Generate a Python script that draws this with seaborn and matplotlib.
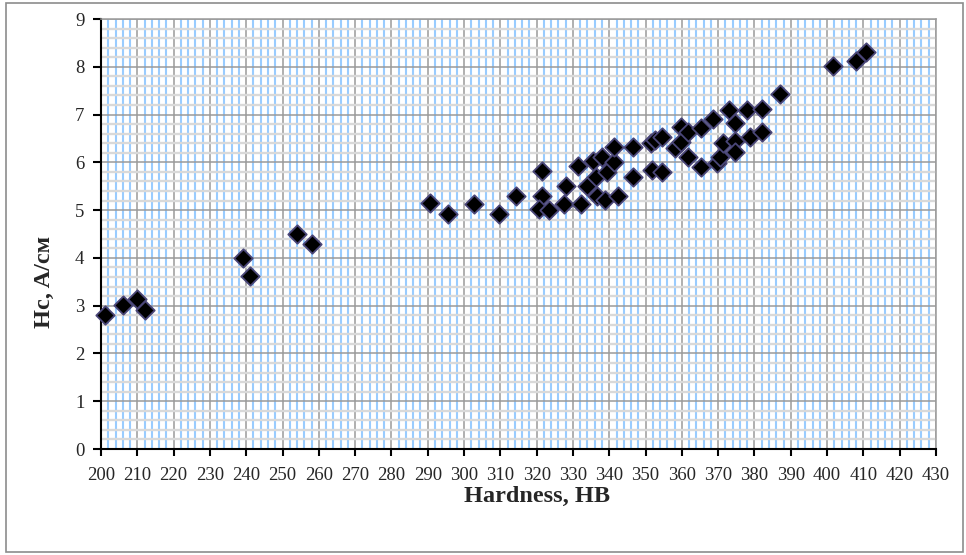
import matplotlib
matplotlib.use("Agg")
import matplotlib.pyplot as plt
import matplotlib.ticker as mticker
import pandas as pd
import seaborn as sns
from matplotlib.patches import Rectangle

hardness = [
    201, 206, 210, 212,
    239, 241, 254, 258,
    290.6, 295.5, 302.7, 309.5, 314.2,
    321.5, 321.5, 320.7, 323.5, 327.4, 328.2, 332.2, 331.4, 333.8,
    335.4, 338.0, 336.3, 339.5, 336.5, 338.8, 341.4, 341.4, 342.5,
    346.6, 346.6, 351.5, 352.6, 354.6, 351.7, 354.6,
    359.8, 358.1, 359.8, 361.6, 361.6, 365.4, 368.7, 365.4,
    369.6, 370.5, 371.4, 372.9, 374.7, 374.7, 374.7,
    377.9, 378.8, 382.0, 382.0, 386.9,
    401.7, 408.0, 410.7,
]
hc = [
    2.81, 3.01, 3.14, 2.91,
    3.99, 3.62, 4.51, 4.30,
    5.14, 4.92, 5.13, 4.92, 5.30,
    5.82, 5.30, 5.02, 5.01, 5.12, 5.51, 5.12, 5.92, 5.50,
    6.02, 6.11, 5.70, 5.80, 5.29, 5.22, 6.01, 6.33, 5.30,
    6.33, 5.70, 6.40, 6.46, 6.54, 5.83, 5.80,
    6.75, 6.30, 6.43, 6.64, 6.11, 6.71, 6.90, 5.90,
    5.98, 6.11, 6.41, 7.10, 6.82, 6.44, 6.21,
    7.10, 6.53, 7.11, 6.63, 7.42,
    8.02, 8.13, 8.30,
]

df = pd.DataFrame({"HB": hardness, "Hc": hc})

sns.set_style("white")
plt.rcParams["font.family"] = ["Liberation Serif", "DejaVu Serif"]

fig = plt.figure(figsize=(9.66, 5.55), dpi=100)
ax = fig.add_axes([101 / 966, 1 - 449 / 555, 835 / 966, 430 / 555])

# outer chart border
fig.patches.append(Rectangle((6 / 966, 3 / 555), 957 / 966, 549 / 555,
                             transform=fig.transFigure, fill=False,
                             edgecolor="#8c8c8c", linewidth=1.2))

sns.scatterplot(data=df, x="HB", y="Hc", marker="D", s=88, color="black",
                edgecolor="#4a4678", linewidth=1.3, ax=ax, zorder=5, clip_on=False)

ax.set_xlim(200, 430)
ax.set_ylim(0, 9)
ax.xaxis.set_major_locator(mticker.MultipleLocator(10))
ax.xaxis.set_minor_locator(mticker.MultipleLocator(2))
ax.yaxis.set_major_locator(mticker.MultipleLocator(1))
ax.yaxis.set_minor_locator(mticker.MultipleLocator(0.2))

ax.set_axisbelow(True)
ax.grid(which="minor", axis="y", color="#d9d9d9", linewidth=1.7)
ax.grid(which="minor", axis="x", color="#99ccff", linewidth=1.5)
ax.grid(which="major", axis="both", color="#9a9a9a", linewidth=1.1)

for side in ["top", "right"]:
    ax.spines[side].set_color("#9a9a9a")
    ax.spines[side].set_linewidth(1.1)
for side in ["left", "bottom"]:
    ax.spines[side].set_color("black")
    ax.spines[side].set_linewidth(1.5)

ax.tick_params(which="major", direction="out", width=1.5, color="black",
               bottom=True, left=True)
ax.tick_params(which="minor", length=0)
ax.tick_params(axis="x", which="major", length=5, labelsize=13.5, pad=8)
ax.tick_params(axis="y", which="major", length=6, labelsize=13.5, pad=6)

ax.set_xlabel("Hardness, HB", fontsize=17.5, fontweight="bold")
ax.set_ylabel("Hc, A/см", fontsize=17.5, fontweight="bold")
ax.xaxis.set_label_coords(0.5216, -0.086)
ax.yaxis.set_label_coords(-0.055, 0.388)

fig.savefig("out.png", dpi=100)
